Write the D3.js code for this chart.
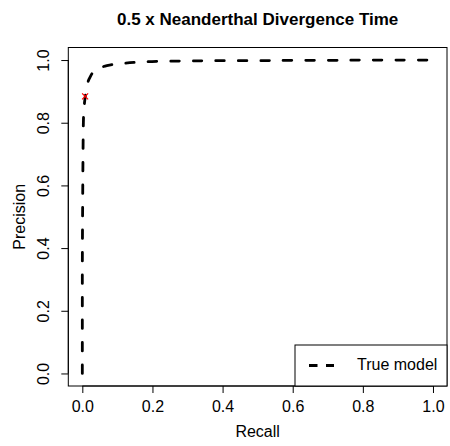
<!DOCTYPE html>
<html><head><meta charset="utf-8">
<script src="https://cdn.jsdelivr.net/npm/d3@7"></script>
<style>body{margin:0;background:#fff}svg{display:block}text{font-family:"Liberation Sans",Arial,sans-serif}</style>
</head><body><svg id="c" width="450" height="446"></svg>
<script>
const title = "0.5 x Neanderthal Divergence Time";
const recall =    [0.000, 0.000, 0.001, 0.002, 0.003, 0.005, 0.008, 0.012, 0.016, 0.022, 0.034, 0.050, 0.070, 0.090, 0.120, 0.160, 0.220, 0.300, 0.400, 0.500, 0.600, 0.700, 0.800, 0.900, 1.000];
const precision = [0.000, 0.300, 0.550, 0.700, 0.800, 0.850, 0.880, 0.910, 0.930, 0.945, 0.964, 0.975, 0.982, 0.986, 0.990, 0.993, 0.996, 0.997, 0.998, 0.998, 0.999, 0.999, 1.000, 1.000, 1.000];
const marker = [{r: 0.008, p: 0.884}];
const ticks = [0, 0.2, 0.4, 0.6, 0.8, 1.0];
const legendLabel = "True model";

const svg = d3.select("#c");
const L = 68.3, R = 447, T = 47.5, B = 386;
const FS = 16;
const x = d3.scaleLinear().domain([-0.04, 1.04]).range([L, R]);
const y = d3.scaleLinear().domain([-0.04, 1.04]).range([B, T]);

svg.append("text").attr("x", (L+R)/2).attr("y", 25).attr("text-anchor","middle")
  .attr("font-weight","bold").attr("font-size", 17).text(title);

// axes
const xa = svg.append("g").attr("transform", `translate(0,${B})`)
  .call(d3.axisBottom(x).tickValues(ticks).tickFormat(d3.format(".1f")).tickSize(7));
xa.select(".domain").attr("d", `M${x(0)},0H${x(1)}`).attr("stroke","#000");
xa.selectAll(".tick text").attr("font-size", FS).attr("font-family","Liberation Sans, Arial, sans-serif")
  .attr("dy", null).attr("y", 25.5);

const ya = svg.append("g").attr("transform", `translate(${L},0)`)
  .call(d3.axisLeft(y).tickValues(ticks).tickFormat(d3.format(".1f")).tickSize(7));
ya.select(".domain").attr("d", `M0,${y(0)}V${y(1)}`).attr("stroke","#000");
ya.selectAll(".tick text").attr("font-size", FS).attr("font-family","Liberation Sans, Arial, sans-serif")
  .attr("text-anchor","middle").attr("dy", null).attr("x", 0).attr("y", 0)
  .attr("transform","translate(-19.8,0) rotate(-90)");

// box
svg.append("rect").attr("x", L).attr("y", T).attr("width", R-L).attr("height", B-T)
  .attr("fill","none").attr("stroke","#000").attr("stroke-width",1);

svg.append("text").attr("x", (L+R)/2).attr("y", 436.7).attr("text-anchor","middle").attr("font-size", FS).text("Recall");
svg.append("text").attr("transform", `translate(25,${(T+B)/2}) rotate(-90)`).attr("text-anchor","middle").attr("font-size", FS).text("Precision");

// curve
const pts = recall.map((r,i)=>[r, precision[i]]);
svg.append("path").datum(pts)
  .attr("d", d3.line().x(d=>x(d[0])).y(d=>y(d[1])).curve(d3.curveMonotoneY))
  .attr("fill","none").attr("stroke","#000").attr("stroke-width",2.8)
  .attr("stroke-dasharray","8.5,14").attr("stroke-linecap","round").attr("stroke-linejoin","round");

// marker
const m = svg.append("g");
marker.forEach(d=>{
  const cx = x(d.r), cy = y(d.p), s = 3;
  m.append("path").attr("d", `M${cx-s},${cy-s}L${cx+s},${cy+s}M${cx-s},${cy+s}L${cx+s},${cy-s}`)
    .attr("stroke","red").attr("stroke-width",1.2).attr("fill","none");
});

// legend
const lg = svg.append("g");
lg.append("rect").attr("x", 295).attr("y", 345).attr("width", R-295).attr("height", B-345)
  .attr("fill","#fff").attr("stroke","#000").attr("stroke-width",1);
lg.append("line").attr("x1", 309).attr("x2", 334).attr("y1", 365.5).attr("y2", 365.5)
  .attr("stroke","#000").attr("stroke-width",2.8).attr("stroke-dasharray","8.5,8.5");
lg.append("text").attr("x", 357).attr("y", 369.5).attr("font-size", FS).text(legendLabel);
</script></body></html>
